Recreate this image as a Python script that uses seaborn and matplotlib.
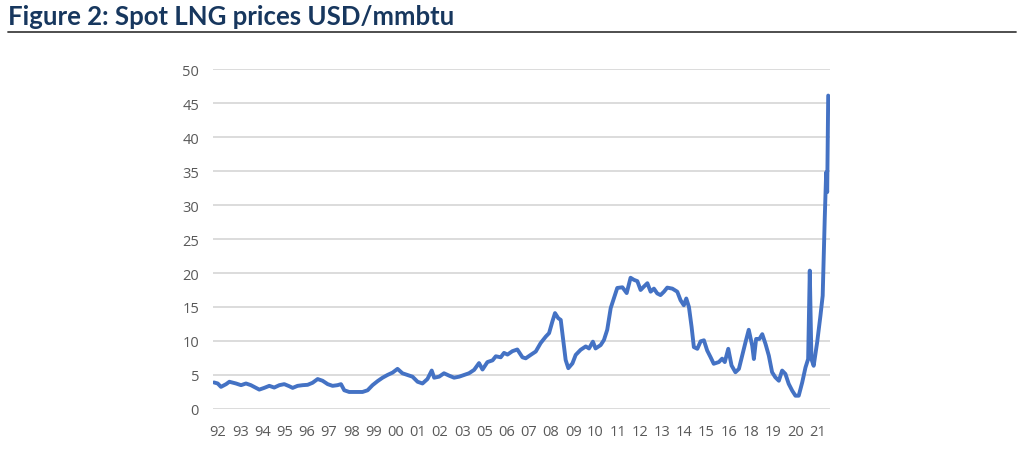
import numpy as np
import pandas as pd
import matplotlib
matplotlib.use("Agg")
import matplotlib.pyplot as plt
import seaborn as sns

# === DATA ===
years = [
    1992.00, 1992.18, 1992.34, 1992.59, 1992.75, 1993.07, 1993.32, 1993.56, 1993.80,
    1994.05, 1994.21, 1994.45, 1994.70, 1994.94, 1995.19, 1995.43, 1995.67, 1995.84,
    1996.08, 1996.33, 1996.57, 1996.81, 1997.06, 1997.30, 1997.55, 1997.79, 1998.03,
    1998.20, 1998.36, 1998.60, 1998.93, 1999.25, 1999.50, 1999.74, 1999.99, 2000.23,
    2000.47, 2000.72, 2000.96, 2001.20, 2001.45, 2001.69, 2001.94, 2002.18, 2002.42,
    2002.63, 2002.75, 2002.99, 2003.23, 2003.48, 2003.72, 2003.97, 2004.21, 2004.45,
    2004.70, 2004.94, 2005.11, 2005.35, 2005.60, 2005.76, 2006.00, 2006.16, 2006.33,
    2006.57, 2006.81, 2007.06, 2007.22, 2007.46, 2007.71, 2007.95, 2008.20, 2008.36,
    2008.52, 2008.65, 2008.81, 2008.93, 2009.04, 2009.17, 2009.30, 2009.50, 2009.66,
    2009.90, 2010.15, 2010.31, 2010.50, 2010.63, 2010.88, 2011.04, 2011.20, 2011.37,
    2011.53, 2011.69, 2011.94, 2012.15, 2012.34, 2012.50, 2012.67, 2012.83, 2012.99,
    2013.16, 2013.32, 2013.48, 2013.64, 2013.80, 2013.97, 2014.13, 2014.38, 2014.62,
    2014.78, 2014.94, 2015.06, 2015.19, 2015.32, 2015.43, 2015.60, 2015.76, 2015.92,
    2016.08, 2016.24, 2016.40, 2016.65, 2016.81, 2016.94, 2017.11, 2017.27, 2017.46,
    2017.63, 2017.79, 2017.95, 2018.11, 2018.28, 2018.36, 2018.47, 2018.63, 2018.77,
    2018.93, 2019.09, 2019.25, 2019.41, 2019.58, 2019.74, 2019.90, 2020.06, 2020.23,
    2020.39, 2020.55, 2020.72, 2020.88, 2021.01, 2021.09, 2021.17, 2021.28, 2021.45,
    2021.61, 2021.72, 2021.82, 2021.89, 2021.94, 2021.99,
]
prices = [
    3.9, 3.75, 3.25, 3.65, 4.0, 3.75, 3.5, 3.75, 3.5,
    3.1, 2.85, 3.1, 3.4, 3.15, 3.5, 3.65, 3.35, 3.1,
    3.4, 3.5, 3.55, 3.85, 4.4, 4.15, 3.65, 3.4, 3.5,
    3.65, 2.75, 2.5, 2.5, 2.5, 2.75, 3.5, 4.1, 4.6,
    5.0, 5.35, 5.9, 5.25, 5.0, 4.75, 4.0, 3.75, 4.4,
    5.65, 4.6, 4.75, 5.25, 4.9, 4.6, 4.75, 5.0, 5.25,
    5.75, 6.75, 5.8, 6.9, 7.15, 7.75, 7.6, 8.25, 8.0,
    8.5, 8.75, 7.6, 7.45, 7.95, 8.45, 9.7, 10.65, 11.15,
    12.85, 14.1, 13.35, 13.1, 10.4, 7.2, 6.0, 6.7, 7.95,
    8.7, 9.2, 8.9, 9.9, 8.9, 9.4, 10.15, 11.65, 14.85,
    16.3, 17.8, 17.9, 17.05, 19.3, 19.0, 18.8, 17.5, 18.0,
    18.5, 17.25, 17.7, 17.0, 16.75, 17.25, 17.85, 17.7, 17.25,
    16.0, 15.25, 16.25, 15.0, 12.05, 9.1, 8.85, 9.95, 10.1,
    8.6, 7.65, 6.65, 6.9, 7.4, 6.9, 8.85, 6.4, 5.4,
    5.9, 7.85, 9.8, 11.65, 9.3, 7.35, 10.3, 10.3, 11.0,
    9.55, 7.85, 5.4, 4.65, 4.15, 5.65, 5.15, 3.7, 2.7,
    1.95, 1.95, 3.9, 6.1, 7.35, 20.35, 7.35, 6.35, 9.8,
    13.7, 16.65, 27.95, 34.8, 31.9, 46.1,
]
x_labels = ["92", "93", "94", "95", "96", "97", "98", "99", "00", "01", "02", "03", "05", "06",
            "07", "08", "09", "10", "11", "12", "13", "14", "15", "16", "18", "19", "20", "21"]
y_ticks = [0, 5, 10, 15, 20, 25, 30, 35, 40, 45, 50]

df = pd.DataFrame({"year": years, "price": prices})

# === STYLE ===
sns.set_style("white")
plt.rcParams["font.family"] = ["Open Sans", "DejaVu Sans"]

fig = plt.figure(figsize=(10.24, 4.52), dpi=100)
ax = fig.add_axes([0.208, 0.093, 0.603, 0.752])

sns.lineplot(data=df, x="year", y="price", ax=ax, color="#4472C4", linewidth=2.8)

ax.set_ylim(0, 50)
ax.set_xlim(1991.95, 2022.1)
ax.set_yticks(y_ticks)
ax.set_yticklabels([str(v) for v in y_ticks])
ax.set_xticks(np.linspace(1992.2, 2021.46, len(x_labels)))
ax.set_xticklabels(x_labels)
ax.tick_params(axis="y", length=0, pad=10, labelsize=10.5, labelcolor="#595959")
ax.tick_params(axis="x", length=0, pad=11, labelsize=10.5, labelcolor="#595959")
ax.yaxis.grid(True, color="#d9d9d9", linewidth=1.3)
ax.xaxis.grid(False)
ax.set_axisbelow(True)
ax.set_xlabel("")
ax.set_ylabel("")
for s in ax.spines.values():
    s.set_visible(False)

# Title and rule
fig.text(0.008, 0.962, "Figure 2: Spot LNG prices USD/mmbtu", fontsize=18.5, fontweight="bold",
         color="#17375E", family=["Lato", "DejaVu Sans"], va="center", ha="left")
fig.add_artist(plt.Line2D([0.008, 0.992], [0.927, 0.927], color="#404040", linewidth=1.3))

fig.savefig("out.png", dpi=100)
